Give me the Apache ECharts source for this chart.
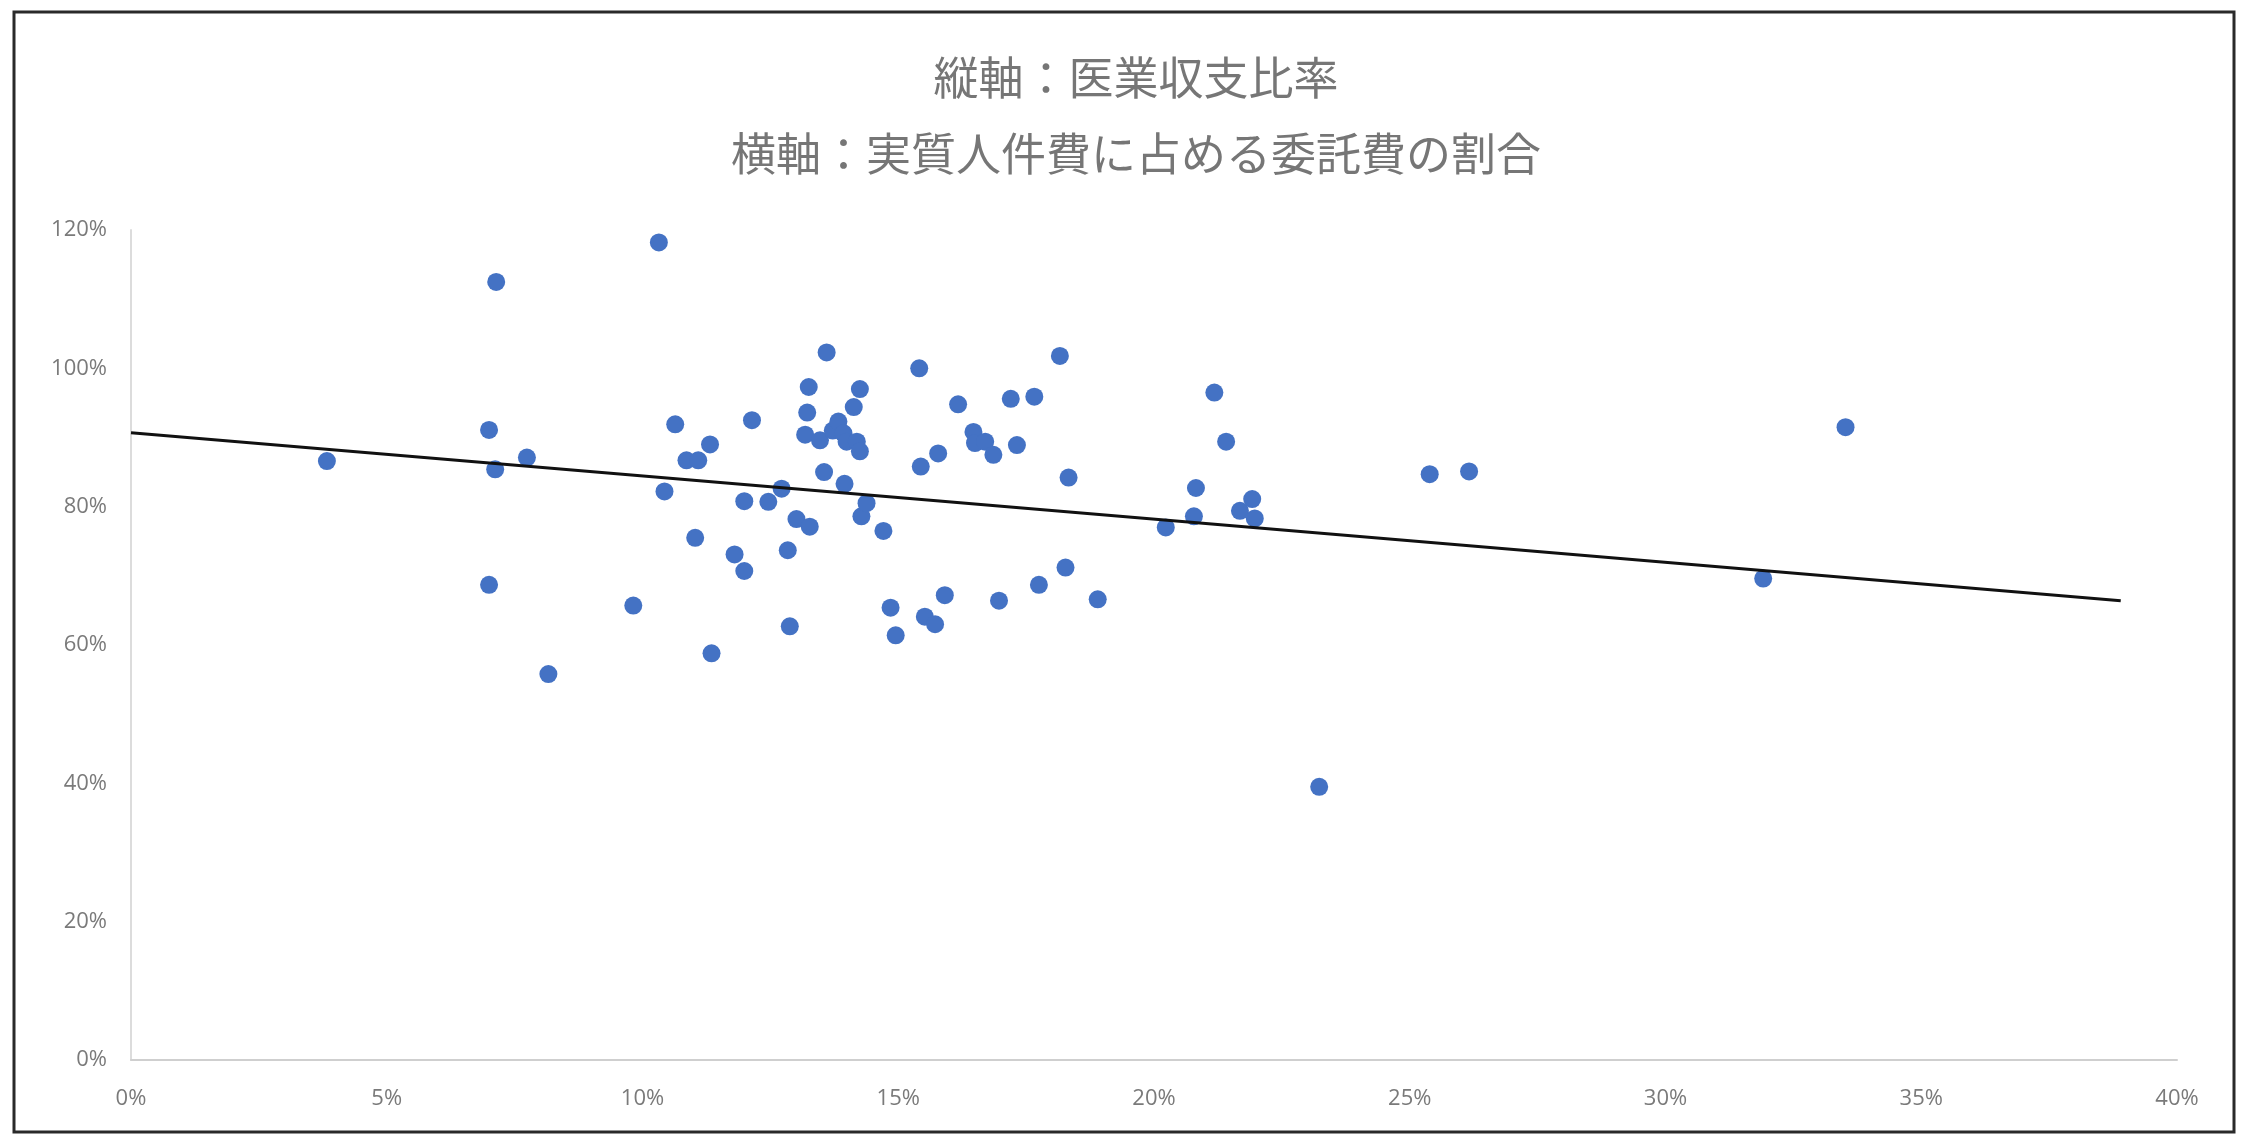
<!DOCTYPE html>
<html>
<head>
<meta charset="utf-8">
<script src="https://cdn.jsdelivr.net/npm/echarts@6/dist/echarts.min.js"></script>
<style>
html,body{margin:0;padding:0;background:#fff;}
#chart{width:2242px;height:1138px;}
</style>
</head>
<body>
<div id="chart"></div>
<script>
// Title lines
const titleLines = ['縦軸：医業収支比率', '横軸：実質人件費に占める委託費の割合'];

// Horizontal axis values: share of outsourcing cost in real personnel cost (%)
const xValues = [
  3.83, 7.14, 7.00, 7.12, 7.00, 7.74, 8.16, 9.82, 10.32, 10.43,
  10.64, 10.86, 11.09, 11.03, 11.32, 11.35, 11.80, 11.99, 11.99, 12.14,
  12.46, 12.72, 12.84, 12.88, 13.01, 13.18, 13.22, 13.25, 13.27, 13.47,
  13.55, 13.60, 13.72, 13.83, 13.93, 13.99, 13.95, 14.13, 14.19, 14.25,
  14.25, 14.28, 14.38, 14.71, 14.85, 14.95, 15.41, 15.44, 15.52, 15.72,
  15.78, 15.91, 16.17, 16.47, 16.50, 16.70, 16.86, 16.97, 17.20, 17.32,
  17.66, 17.75, 18.16, 18.27, 18.33, 18.90, 20.23, 20.78, 20.82, 21.18,
  21.41, 21.68, 21.92, 21.97, 23.23, 25.39, 26.16, 31.91, 33.52
];
// Vertical axis values: medical income/expense ratio (%)
const yValues = [
  86.6, 112.5, 91.1, 85.4, 68.7, 87.1, 55.8, 65.7, 118.2, 82.2,
  91.9, 86.7, 86.7, 75.5, 89.0, 58.8, 73.1, 80.8, 70.7, 92.5,
  80.7, 82.6, 73.7, 62.7, 78.2, 90.4, 93.6, 97.3, 77.1, 89.6,
  85.0, 102.3, 91.0, 92.3, 90.6, 89.4, 83.3, 94.4, 89.4, 97.0,
  88.0, 78.6, 80.5, 76.5, 65.4, 61.4, 100.0, 85.8, 64.1, 63.0,
  87.7, 67.2, 94.8, 90.8, 89.2, 89.4, 87.5, 66.4, 95.6, 88.9,
  95.9, 68.7, 101.8, 71.2, 84.2, 66.6, 77.0, 78.6, 82.7, 96.5,
  89.4, 79.4, 81.1, 78.3, 39.5, 84.7, 85.1, 69.6, 91.5
];
// Linear trendline end points
const trendX = [0, 38.9];
const trendY = [90.7, 66.4];

// Axis ticks
const xTicks = [0, 5, 10, 15, 20, 25, 30, 35, 40];
const yTicks = [0, 20, 40, 60, 80, 100, 120];

const points = xValues.map((x, i) => [x, yValues[i]]);
const trend = trendX.map((x, i) => [x, trendY[i]]);

const chart = echarts.init(document.getElementById('chart'), null, {renderer: 'canvas'});
const labelFont = 'Open Sans, Noto Sans, sans-serif';
const cjkFont = '"Noto Sans CJK JP", "Noto Sans CJK SC", sans-serif';

chart.setOption({
  backgroundColor: '#ffffff',
  animation: false,
  title: [
    {text: titleLines[0], left: 1131, top: 50, textAlign: 'center',
     textStyle: {fontFamily: cjkFont, fontSize: 45, fontWeight: 'normal', color: '#767676'}},
    {text: titleLines[1], left: 1131, top: 126, textAlign: 'center',
     textStyle: {fontFamily: cjkFont, fontSize: 45, fontWeight: 'normal', color: '#767676'}}
  ],
  graphic: [
    {type: 'rect', shape: {x: 14, y: 12, width: 2220, height: 1120},
     style: {fill: 'none', stroke: '#2a2a2a', lineWidth: 3}, silent: true}
  ],
  grid: {left: 131, right: 65, top: 230, bottom: 78, containLabel: false},
  xAxis: {
    type: 'value',
    min: xTicks[0], max: xTicks[xTicks.length - 1], interval: xTicks[1] - xTicks[0],
    axisLine: {show: true, lineStyle: {color: '#cfcfcf', width: 2}},
    axisTick: {show: false},
    splitLine: {show: false},
    axisLabel: {formatter: '{value}%', margin: 28, fontSize: 22, color: '#7a7a7a', fontFamily: labelFont}
  },
  yAxis: {
    type: 'value',
    min: yTicks[0], max: yTicks[yTicks.length - 1], interval: yTicks[1] - yTicks[0],
    axisLine: {show: true, lineStyle: {color: '#dcdcdc', width: 2}},
    axisTick: {show: false},
    splitLine: {show: false},
    axisLabel: {formatter: '{value}%', margin: 24, fontSize: 22, color: '#7a7a7a', fontFamily: labelFont}
  },
  series: [
    {
      type: 'scatter',
      data: points,
      symbol: 'circle',
      symbolSize: 18,
      itemStyle: {color: '#4472C4', opacity: 1},
      z: 3
    },
    {
      type: 'line',
      data: trend,
      symbol: 'none',
      lineStyle: {color: '#111111', width: 3},
      z: 4
    }
  ]
});
</script>
</body>
</html>
